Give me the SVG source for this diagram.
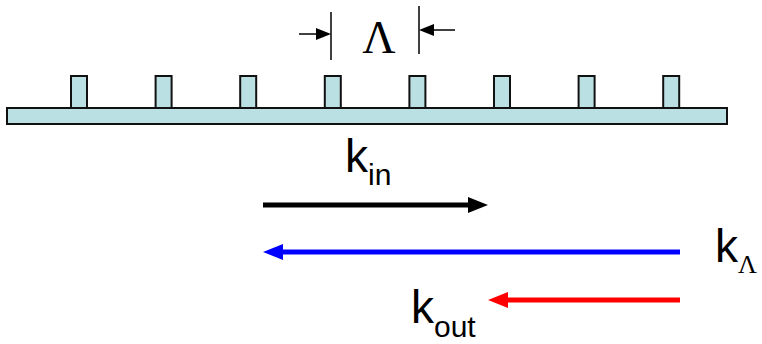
<svg xmlns="http://www.w3.org/2000/svg" width="762" height="344" viewBox="0 0 762 344">
<style>
.g{fill:#bbe0e3;stroke:#111;stroke-width:2}
.t{font-family:"Liberation Sans",Arial,sans-serif;fill:#000}
.s{font-family:"Liberation Serif","Times New Roman",serif;fill:#000}
</style>
<rect width="762" height="344" fill="#fff"/>
<g id="grating">
<rect class="g" x="7" y="108" width="720" height="16"/>
<rect class="g" x="71" y="76" width="16" height="32"/>
<rect class="g" x="155.6" y="76" width="16" height="32"/>
<rect class="g" x="240.2" y="76" width="16" height="32"/>
<rect class="g" x="324.8" y="76" width="16" height="32"/>
<rect class="g" x="409.4" y="76" width="16" height="32"/>
<rect class="g" x="494" y="76" width="16" height="32"/>
<rect class="g" x="578.6" y="76" width="16" height="32"/>
<rect class="g" x="663.2" y="76" width="16" height="32"/>
</g>
<g id="period">
<line x1="331" y1="12" x2="331" y2="60" stroke="#000" stroke-width="1.5"/>
<line x1="419" y1="6" x2="419" y2="54" stroke="#000" stroke-width="1.5"/>
<line x1="299" y1="34" x2="318" y2="34" stroke="#000" stroke-width="1.5"/>
<polygon points="331,34 316,28 316,40" fill="#000"/>
<line x1="455" y1="30" x2="432" y2="30" stroke="#000" stroke-width="1.5"/>
<polygon points="419,30 434,24 434,36" fill="#000"/>
<text class="s" x="379" y="53" font-size="46" text-anchor="middle">Λ</text>
</g>
<g id="connectors">
<line x1="263" y1="205" x2="472" y2="205" stroke="#000" stroke-width="5"/>
<polygon points="488,205 468,197 468,213" fill="#000"/>
<line x1="680" y1="252" x2="278" y2="252" stroke="#0000ff" stroke-width="5"/>
<polygon points="263,252 283,244 283,260" fill="#0000ff"/>
<line x1="680" y1="300" x2="503" y2="300" stroke="#ff0000" stroke-width="5"/>
<polygon points="488,300 508,292 508,308" fill="#ff0000"/>
</g>
<g id="kin">
<text class="t" x="345" y="172" font-size="46">k<tspan font-size="30" dy="13">in</tspan></text>
</g>
<g id="klambda">
<text class="t" x="715" y="262" font-size="46">k<tspan class="s" font-size="26" dy="11">Λ</tspan></text>
</g>
<g id="kout">
<text class="t" x="411" y="323" font-size="46">k<tspan font-size="30" dy="14">out</tspan></text>
</g>
</svg>
